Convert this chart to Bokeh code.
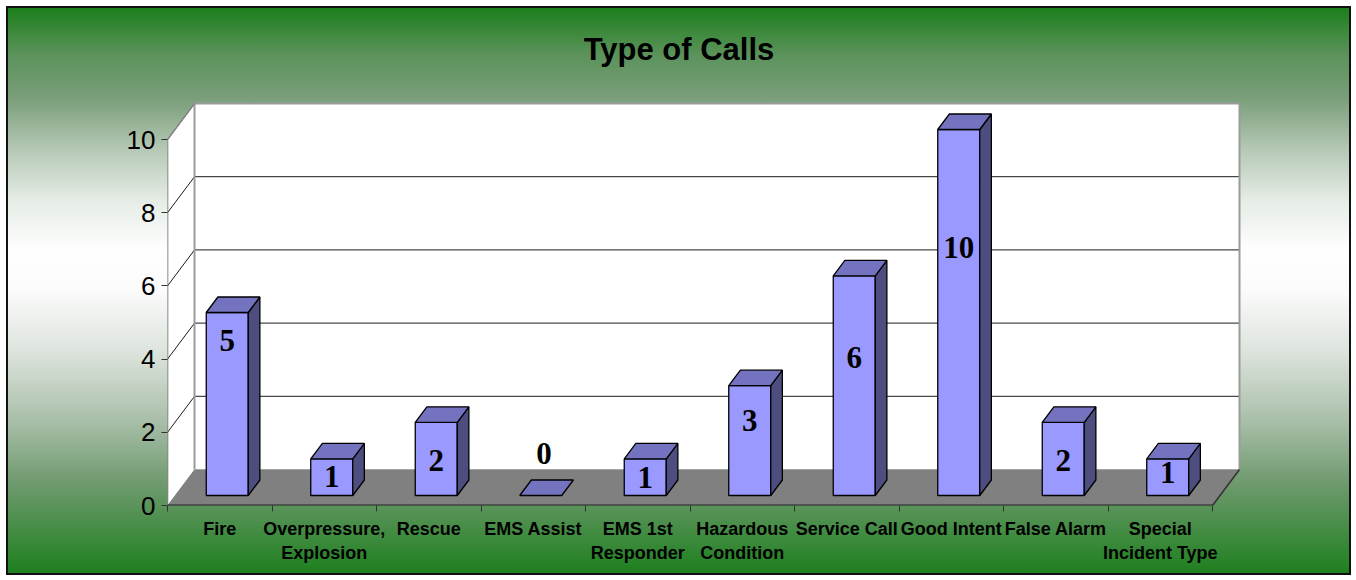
from bokeh.plotting import figure
from bokeh.models import Range1d, LinearAxis, FixedTicker
from bokeh.core.properties import value
from bokeh.embed import file_html
from bokeh.resources import INLINE

# ---- data ----
categories = ["Fire", "Overpressure,\nExplosion", "Rescue", "EMS Assist", "EMS 1st\nResponder",
              "Hazardous\nCondition", "Service Call", "Good Intent", "False Alarm",
              "Special\nIncident Type"]
calls = [5, 1, 2, 0, 1, 3, 6, 10, 2, 1]
value_labels = [str(v) for v in calls]
# vertical position (in value units) where each value label sits, as seen in the picture
label_pos = [4.51, 0.79, 1.23, 1.42, 0.77, 2.32, 4.04, 7.05, 1.23, 0.90]
y_ticks = [0, 2, 4, 6, 8, 10]
title_text = "Type of Calls"

# ---- layout ----
W, H = 1341, 565
PX_X = 104.5   # px per category
PX_Y = 36.6    # px per value unit
LEFT = 159
BOTTOM = 68
frame_w = W - LEFT
frame_h = H - BOTTOM
x0 = -0.5
x_end = x0 + frame_w / PX_X
y_end = frame_h / PX_Y

DX = 27 / PX_X      # wall depth (x)
DY = 36 / PX_Y      # wall depth (y)
F1, F2 = 10 / 36, 25.5 / 36   # bar front / back depth fractions
HW = 21 / PX_X      # half bar width
XL = -0.5
XR = len(categories) - 0.5
YMAX = y_ticks[-1]

p = figure(width=W, height=H, output_backend="svg", toolbar_location=None,
           x_range=Range1d(x0, x_end), y_range=Range1d(0, y_end),
           x_axis_location=None, y_axis_location=None, title=None,
           min_border_left=LEFT, min_border_right=0, min_border_top=0,
           min_border_bottom=BOTTOM)
p.background_fill_color = None
p.border_fill_color = None
p.outline_line_color = None
for g in p.grid:
    g.visible = False
p.styles = {
    "background": "linear-gradient(to bottom, #1b7f1b 0%, #5a925a 8%, #7a9e7a 16%, #b5c8b5 25%, "
                  "#e5ece5 34%, #ffffff 43%, #fbfbfb 50%, #dce3dc 61%, #a9bfa9 73%, "
                  "#6f9a6f 84%, #1e801e 100%)",
    "outline": "2px solid #111111",
    "margin-left": "8px",
    "margin-top": "8px",
}

# walls & floor
p.patch([XL, XL, XL + DX, XL + DX], [0, YMAX, YMAX + DY, DY], fill_color="white", line_color=None)
p.quad(left=[XL + DX], right=[XR + DX], bottom=[DY], top=[YMAX + DY],
       fill_color="white", line_color=None)
p.patch([XL, XR, XR + DX, XL + DX], [0, 0, DY, DY], fill_color="#808080", line_color=None)

gt = y_ticks[1:]
p.segment(x0=[XL + DX] * len(gt), y0=[t + DY for t in gt], x1=[XR + DX] * len(gt),
          y1=[t + DY for t in gt], line_color="#1a1a1a", line_width=1)
p.segment(x0=[XL] * len(gt), y0=gt, x1=[XL + DX] * len(gt), y1=[t + DY for t in gt],
          line_color="#1a1a1a", line_width=1)

# edges
p.line([XL + DX, XL + DX, XR + DX, XR + DX], [DY, YMAX + DY, YMAX + DY, DY],
       line_color="#9a9a9a", line_width=2)
p.line([XL, XL + DX], [YMAX, YMAX + DY], line_color="#888888", line_width=1.5)
p.line([XL, XL], [0, YMAX], line_color="#666666", line_width=1.5)
p.line([XL, XR], [0, 0], line_color="#222222", line_width=2)
p.line([XR, XR + DX], [0, DY], line_color="#333333", line_width=1.5)

# bars
sx = (F2 - F1) * DX
sy = (F2 - F1) * DY
cx = [i + F1 * DX for i in range(len(calls))]
fy0 = F1 * DY
nz = [i for i, v in enumerate(calls) if v > 0]
p.quad(left=[cx[i] - HW for i in nz], right=[cx[i] + HW for i in nz],
       bottom=[fy0] * len(nz), top=[fy0 + calls[i] for i in nz],
       fill_color="#9999FF", line_color="black", line_width=1.3)
p.patches([[cx[i] + HW, cx[i] + HW + sx, cx[i] + HW + sx, cx[i] + HW] for i in nz],
          [[fy0, fy0 + sy, fy0 + calls[i] + sy, fy0 + calls[i]] for i in nz],
          fill_color="#4D4D80", line_color="black", line_width=1.3)
p.patches([[c - HW, c + HW, c + HW + sx, c - HW + sx] for c in cx],
          [[fy0 + v, fy0 + v, fy0 + v + sy, fy0 + v + sy] for v in calls],
          fill_color="#7373C0", line_color="black", line_width=1.3)

# value labels
p.text(x=[c + 0.03 * (v == 0) for c, v in zip(cx, calls)], y=label_pos, text=value_labels,
       text_font=value("Liberation Serif"), text_font_style="bold", text_font_size="31px",
       text_align="center", text_baseline="middle", text_color="black")

# title
p.text(x=[x0 + (W / 2 - LEFT) / PX_X], y=[(frame_h - 41) / PX_Y], text=[title_text],
       text_font=value("Liberation Sans"), text_font_style="bold", text_font_size="31px",
       text_align="center", text_baseline="middle", text_color="black")

# axes
yax = LinearAxis(ticker=FixedTicker(ticks=y_ticks), axis_line_color=None,
                 major_tick_out=6, major_tick_in=0, minor_tick_out=0, minor_tick_in=0,
                 major_tick_line_color="#333333", major_label_text_font_size="26px",
                 major_label_text_font="Liberation Sans", major_label_standoff=6,
                 major_label_text_color="black")
p.add_layout(yax, "left")

xax = LinearAxis(ticker=FixedTicker(ticks=list(range(len(categories))),
                                    minor_ticks=[i - 0.5 for i in range(len(categories) + 1)]),
                 major_label_overrides={i: c for i, c in enumerate(categories)},
                 axis_line_color=None, major_tick_out=0, major_tick_in=0,
                 minor_tick_out=6, minor_tick_in=0, minor_tick_line_color="#333333",
                 major_label_text_font="Liberation Sans", major_label_text_font_style="bold",
                 major_label_text_font_size="18px", major_label_standoff=7,
                 major_label_text_line_height=1.22, major_label_text_color="black")
p.add_layout(xax, "below")

open("out.html", "w").write(file_html(p, INLINE))
